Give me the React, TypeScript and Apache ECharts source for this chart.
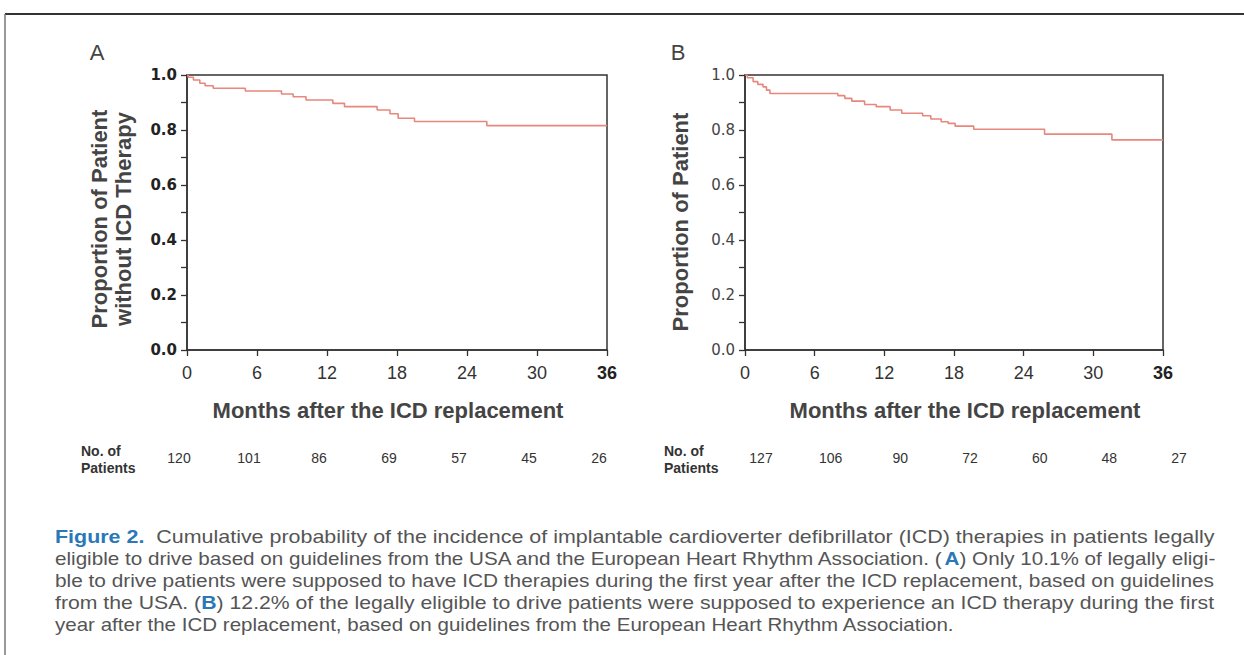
import React, { useEffect, useRef } from "react";
import * as echarts from "echarts";

// Kaplan-Meier step data (month of event, proportion after event)
const monthsA = [0, 0.1, 0.55, 1.1, 1.55, 2.25, 5.0, 8.1, 9.1, 10.2, 12.5, 13.5, 16.3, 17.4, 18.1, 19.5, 25.7, 36];
const survivalA = [1.0, 0.992, 0.982, 0.97, 0.961, 0.952, 0.942, 0.931, 0.921, 0.909, 0.897, 0.885, 0.873, 0.859, 0.843, 0.831, 0.816, 0.816];
const monthsB = [0, 0.2, 0.7, 1.1, 1.55, 1.85, 2.15, 8.0, 8.6, 9.2, 10.3, 11.3, 12.5, 13.5, 15.3, 16.0, 16.9, 17.5, 18.1, 19.7, 25.8, 31.6, 36];
const survivalB = [1.0, 0.99, 0.976, 0.966, 0.957, 0.945, 0.933, 0.925, 0.915, 0.905, 0.893, 0.885, 0.873, 0.861, 0.852, 0.84, 0.83, 0.824, 0.814, 0.803, 0.785, 0.764, 0.764];

// Numbers at risk
const riskMonths = [0, 6, 12, 18, 24, 30, 36];
const atRiskA = [120, 101, 86, 69, 57, 45, 26];
const atRiskB = [127, 106, 90, 72, 60, 48, 27];

const panelLabels = ["A", "B"];
const yTitleA = "Proportion of Patient\nwithout ICD Therapy";
const yTitleB = "Proportion of Patient";
const xTitle = "Months after the ICD replacement";
const captionLines = [
  "{fig|Figure 2.}  Cumulative probability of the incidence of implantable cardioverter defibrillator (ICD) therapies in patients legally",
  "eligible to drive based on guidelines from the USA and the European Heart Rhythm Association. ({bl|A}) Only 10.1% of legally eligi-",
  "ble to drive patients were supposed to have ICD therapies during the first year after the ICD replacement, based on guidelines",
  "from the USA. ({bl|B}) 12.2% of the legally eligible to drive patients were supposed to experience an ICD therapy during the first",
  "year after the ICD replacement, based on guidelines from the European Heart Rhythm Association.",
];
const captionWidths = [1160, 1160, 1160, 1160, 900];

const AXIS = "#333";
const CURVE = "#e8877d";
const SANS = "Liberation Sans, Arial, sans-serif";
const CAP_SIZE = 17.5;

function zip(xs: number[], ys: number[]) {
  return xs.map((x, i) => [x, ys[i]]);
}

function measureRich(line: string): number {
  const ctx = document.createElement("canvas").getContext("2d");
  if (!ctx) return 1;
  let total = 0;
  const re = /\{(\w+)\|([^}]*)\}/g;
  let last = 0;
  let m: RegExpExecArray | null;
  const plainFont = `${CAP_SIZE}px ${SANS}`;
  const boldFont = `bold ${CAP_SIZE}px ${SANS}`;
  while ((m = re.exec(line))) {
    ctx.font = plainFont;
    total += ctx.measureText(line.slice(last, m.index)).width;
    ctx.font = boldFont;
    total += ctx.measureText(m[2]).width;
    last = m.index + m[0].length;
  }
  ctx.font = plainFont;
  total += ctx.measureText(line.slice(last)).width;
  return total;
}

function makeX(gridIndex: number) {
  return {
    type: "value",
    gridIndex,
    min: 0,
    max: 36,
    interval: 6,
    splitLine: { show: false },
    axisLine: { show: true, onZero: false, lineStyle: { color: AXIS, width: 1.5 } },
    axisTick: { show: true, length: 6, lineStyle: { color: AXIS, width: 1.3 } },
    axisLabel: {
      margin: 14,
      fontFamily: SANS,
      fontSize: 18,
      color: "#333",
      formatter: (v: number) => (v === 36 ? "{b|36}" : String(v)),
      rich: {
        b: { fontFamily: SANS, fontSize: 18, fontWeight: "bold", color: "#222" },
      },
    },
  };
}

function makeY(gridIndex: number, bold: boolean) {
  return {
    type: "value",
    gridIndex,
    min: 0,
    max: 1,
    interval: 0.2,
    splitLine: { show: false },
    axisLine: { show: true, lineStyle: { color: AXIS, width: 1.5 } },
    axisTick: { show: true, length: 6, lineStyle: { color: AXIS, width: 1.3 } },
    minorTick: { show: true, splitNumber: 2, length: 6, lineStyle: { color: AXIS, width: 1.3 } },
    axisLabel: {
      margin: 10,
      fontFamily: "DejaVu Sans, sans-serif",
      fontSize: 15,
      fontWeight: bold ? "bold" : "normal",
      color: bold ? "#222" : "#444",
      formatter: (v: number) => v.toFixed(1),
    },
  };
}

export default function App() {
  const ref = useRef<HTMLDivElement>(null);
  useEffect(() => {
    if (!ref.current) return;
    const chart = echarts.init(ref.current, undefined, { renderer: "svg" });
    chart.setOption({
      animation: false,
      backgroundColor: "#fff",
      grid: [
        { left: 187, top: 75, width: 420, height: 275, show: true, borderColor: AXIS, borderWidth: 1.5, backgroundColor: "transparent" },
        { left: 745, top: 75, width: 418, height: 275, show: true, borderColor: AXIS, borderWidth: 1.5, backgroundColor: "transparent" },
      ],
      xAxis: [makeX(0), makeX(1)],
      yAxis: [makeY(0, true), makeY(1, false)],
      series: [
        {
          type: "line",
          xAxisIndex: 0,
          yAxisIndex: 0,
          step: "end",
          symbol: "none",
          lineStyle: { color: CURVE, width: 1.6 },
          data: zip(monthsA, survivalA),
        },
        {
          type: "line",
          xAxisIndex: 1,
          yAxisIndex: 1,
          step: "end",
          symbol: "none",
          lineStyle: { color: CURVE, width: 1.6 },
          data: zip(monthsB, survivalB),
        },
      ],
    });

    const riskY = 458;
    const riskFont = `14px ${SANS}`;
    const riskTexts: any[] = [];
    riskMonths.forEach((m, i) => {
      const xa = chart.convertToPixel({ xAxisIndex: 0 }, m) as number;
      const xb = chart.convertToPixel({ xAxisIndex: 1 }, m) as number;
      riskTexts.push({
        type: "text",
        x: xa - 8,
        y: riskY,
        style: { text: String(atRiskA[i]), font: riskFont, fill: "#333", align: "center", verticalAlign: "middle" },
      });
      riskTexts.push({
        type: "text",
        x: xb + 16,
        y: riskY,
        style: { text: String(atRiskB[i]), font: riskFont, fill: "#333", align: "center", verticalAlign: "middle" },
      });
    });

    const capFont = `${CAP_SIZE}px ${SANS}`;
    const caption = captionLines.map((t, i) => {
      const natural = measureRich(t);
      const sx = natural > 0 ? captionWidths[i] / natural : 1;
      return {
        type: "text",
        x: 55,
        y: 537 + i * 22,
        scaleX: sx,
        style: {
          text: t,
          font: capFont,
          fill: "#555",
          align: "left",
          verticalAlign: "middle",
          rich: {
            fig: { fontFamily: SANS, fontSize: CAP_SIZE, fontWeight: "bold", fill: "#2a78b8" },
            bl: { fontFamily: SANS, fontSize: CAP_SIZE, fontWeight: "bold", fill: "#2a78b8" },
          },
        },
      };
    });

    const titleFont = `bold 22px ${SANS}`;
    const noteFont = `bold 14px ${SANS}`;
    chart.setOption({
      graphic: [
        { type: "line", shape: { x1: 5, y1: 14, x2: 1244, y2: 14 }, style: { stroke: "#333", lineWidth: 2 } },
        { type: "line", shape: { x1: 5, y1: 14, x2: 5, y2: 655 }, style: { stroke: "#777", lineWidth: 1.5 } },
        { type: "text", x: 97, y: 52, style: { text: panelLabels[0], font: `22px ${SANS}`, fill: "#444", align: "center", verticalAlign: "middle" } },
        { type: "text", x: 678, y: 52, style: { text: panelLabels[1], font: `22px ${SANS}`, fill: "#444", align: "center", verticalAlign: "middle" } },
        { type: "text", x: 111, y: 219, rotation: Math.PI / 2, style: { text: yTitleA, font: titleFont, lineHeight: 24, fill: "#444", align: "center", verticalAlign: "middle" } },
        { type: "text", x: 680, y: 222, rotation: Math.PI / 2, style: { text: yTitleB, font: titleFont, fill: "#444", align: "center", verticalAlign: "middle" } },
        { type: "text", x: 388, y: 410, style: { text: xTitle, font: titleFont, fill: "#444", align: "center", verticalAlign: "middle" } },
        { type: "text", x: 965, y: 410, style: { text: xTitle, font: titleFont, fill: "#444", align: "center", verticalAlign: "middle" } },
        { type: "text", x: 81, y: 451, style: { text: "No. of", font: noteFont, fill: "#333", align: "left", verticalAlign: "middle" } },
        { type: "text", x: 81, y: 468, style: { text: "Patients", font: noteFont, fill: "#333", align: "left", verticalAlign: "middle" } },
        { type: "text", x: 664, y: 451, style: { text: "No. of", font: noteFont, fill: "#333", align: "left", verticalAlign: "middle" } },
        { type: "text", x: 664, y: 468, style: { text: "Patients", font: noteFont, fill: "#333", align: "left", verticalAlign: "middle" } },
        ...riskTexts,
        ...caption,
      ],
    });
    return () => chart.dispose();
  }, []);
  return <div ref={ref} style={{ position: "absolute", left: 0, top: 0, width: 1244, height: 655 }} />;
}
